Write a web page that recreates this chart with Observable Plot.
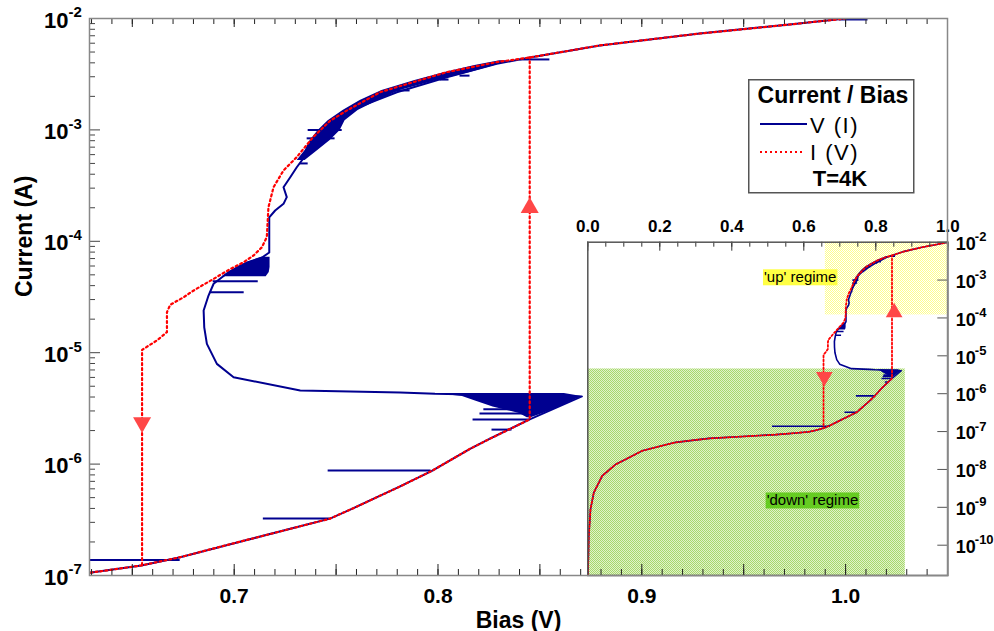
<!DOCTYPE html>
<html><head><meta charset="utf-8">
<script src="https://cdn.jsdelivr.net/npm/d3@7"></script>
<script src="https://cdn.jsdelivr.net/npm/@observablehq/plot@0.6"></script>
<style>
html,body{margin:0;padding:0;background:#fff;}
#wrap{position:relative;width:994px;height:631px;overflow:hidden;font-family:"Liberation Sans",Arial,sans-serif;}
#inset{position:absolute;left:560px;top:200px;z-index:1;}
#main{position:absolute;left:0;top:0;z-index:2;}
#legend{position:absolute;left:748px;top:79px;z-index:3;}
</style></head><body>
<div id="wrap">
<div id="inset"></div>
<div id="main"></div>
<div id="legend">
<svg width="168" height="116" font-family="Liberation Sans, Arial, sans-serif">
<rect x="0.75" y="0.75" width="165" height="113" fill="white" stroke="#555" stroke-width="1.5"/>
<text x="85" y="24" text-anchor="middle" font-size="23" font-weight="bold">Current / Bias</text>
<line x1="12" x2="59" y1="45" y2="45" stroke="#000090" stroke-width="2"/>
<text x="111" y="54" text-anchor="end" font-size="22" letter-spacing="1.5">V (I)</text>
<line x1="12" x2="56" y1="73" y2="73" stroke="#ff0000" stroke-width="2" stroke-dasharray="2 3"/>
<text x="111" y="81" text-anchor="end" font-size="22" letter-spacing="1.5">I (V)</text>
<text x="92" y="107" text-anchor="middle" font-size="22" font-weight="bold">T=4K</text>
</svg>
</div>
</div>
<script>
// ---------------- DATA (Bias in V, Current in A) ----------------
// lower (low-current) branch, shared by I(V) up-sweep and V(I)
const lowerV = [0.000, 0.0028, 0.0075, 0.0167, 0.040, 0.077, 0.151, 0.244, 0.337, 0.430, 0.522, 0.580, 0.615, 0.629, 0.6343, 0.6544, 0.6735, 0.700, 0.7309, 0.747, 0.7569, 0.7814, 0.797, 0.8157, 0.8255, 0.845];
const lowerI = [1.0e-11, 1.74e-10, 8.9e-10, 2.45e-9, 6.8e-9, 1.35e-8, 3.1e-8, 5.2e-8, 6.6e-8, 7.4e-8, 8.3e-8, 9.2e-8, 9.9e-8, 1.06e-7, 1.09e-7, 1.23e-7, 1.46e-7, 1.95e-7, 2.72e-7, 3.24e-7, 3.9e-7, 6.3e-7, 8.7e-7, 1.37e-6, 1.69e-6, 2.52e-6];
// I(V) up-sweep: jump to the 'up' regime
const jumpUpV = [0.845];
const jumpUpI = [4.47e-3];
// I(V) down-sweep
const redDownV = [1.0, 0.9725, 0.9284, 0.8794, 0.8451, 0.8288, 0.8043, 0.7877, 0.7716, 0.7552, 0.7471, 0.7387, 0.7307, 0.7242, 0.7193, 0.7168, 0.716, 0.7136, 0.7095, 0.7046, 0.6989, 0.694, 0.6891, 0.6842, 0.6793, 0.6752, 0.6686, 0.667, 0.667, 0.6621, 0.6548, 0.6548];
const redDownI = [1.0e-2, 8.83e-3, 7.33e-3, 5.73e-3, 4.47e-3, 4.06e-3, 3.30e-3, 2.68e-3, 2.18e-3, 1.49e-3, 1.21e-3, 8.6e-4, 5.7e-4, 4.33e-4, 3.06e-4, 2.02e-4, 1.09e-4, 8.85e-5, 7.46e-5, 6.49e-5, 5.74e-5, 5.1e-5, 4.51e-5, 4.01e-5, 3.54e-5, 3.15e-5, 2.69e-5, 2.31e-5, 1.53e-5, 1.29e-5, 1.06e-5, 1.23e-7];
// V(I) above the lower branch
const blueUpperV = [0.8706, 0.7985, 0.7814, 0.7324, 0.6997, 0.6915, 0.6866, 0.6853, 0.6850, 0.6874, 0.6899, 0.694, 0.6971, 0.7015, 0.7064, 0.7137, 0.7172, 0.7172, 0.7201, 0.7242, 0.7258, 0.7242, 0.7275, 0.7307, 0.7356, 0.7422, 0.7503, 0.7634, 0.7798, 0.8043, 0.8288, 0.8451, 0.8794, 0.9284, 0.9725, 1.0];
const blueUpperI = [4.05e-6, 4.27e-6, 4.40e-6, 4.58e-6, 6.03e-6, 7.94e-6, 1.20e-5, 1.69e-5, 2.39e-5, 3.26e-5, 4.16e-5, 4.76e-5, 5.25e-5, 5.82e-5, 6.46e-5, 7.16e-5, 7.94e-5, 1.64e-4, 1.89e-4, 2.17e-4, 2.49e-4, 3.06e-4, 3.76e-4, 4.62e-4, 6.1e-4, 8.6e-4, 1.30e-3, 1.66e-3, 2.18e-3, 2.97e-3, 3.92e-3, 4.47e-3, 5.73e-3, 7.33e-3, 8.83e-3, 1.0e-2];
// dense V(I) noise regions (left / right bias at each current)
const triI = [4.3e-6, 4.05e-6, 3.7e-6, 3.25e-6, 2.85e-6, 2.6e-6];
const triLeft = [0.7985, 0.812, 0.818, 0.827, 0.840, 0.8438];
const triRight = [0.862, 0.8706, 0.866, 0.8596, 0.8516, 0.8456];
const blockI = [7.2e-5, 6.46e-5, 5.82e-5, 5.25e-5, 4.8e-5];
const blockLeft = [0.7137, 0.7064, 0.7015, 0.6971, 0.6941];
const blockRight = [0.7176, 0.7176, 0.7176, 0.7172, 0.7157];
const bandI = [5.31e-4, 6.53e-4, 8.04e-4, 9.89e-4, 1.21e-3, 1.49e-3, 1.84e-3, 2.26e-3, 2.78e-3, 3.27e-3, 3.78e-3, 4.17e-3];
const bandLeft = [0.7309, 0.7348, 0.7373, 0.7412, 0.7461, 0.7534, 0.7618, 0.7725, 0.7887, 0.8034, 0.8181, 0.8304];
const bandRight = [0.7348, 0.741, 0.7471, 0.752, 0.7544, 0.7608, 0.7706, 0.7814, 0.7995, 0.8157, 0.8279, 0.8353];
// V(I) excursions (horizontal spikes)
const hairI = [1.38e-7, 3.25e-7, 8.77e-7, 2.04e-6, 2.51e-6, 2.84e-6, 3.1e-6, 3.49e-5, 4.39e-5, 5.0e-4, 8.4e-4, 1.0e-3, 2.26e-3, 2.83e-3, 3.07e-3, 4.29e-3, 9.8e-3];
const hairV1 = [0.513, 0.7143, 0.7461, 0.8265, 0.8172, 0.8206, 0.8225, 0.6882, 0.6897, 0.7324, 0.7358, 0.7363, 0.7789, 0.801, 0.8108, 0.8402, 0.997];
const hairV2 = [0.6735, 0.7471, 0.7966, 0.8363, 0.8451, 0.8451, 0.8480, 0.7049, 0.7118, 0.7363, 0.7495, 0.7530, 0.7863, 0.8054, 0.8157, 0.8549, 1.011];
// sweep-direction arrows
const arrowV = [0.6548, 0.845];
const arrowI = [2.36e-6, 2.0e-4];
const arrowRot = [180, 0];
const insetArrowV = [0.657, 0.851];
const insetArrowI = [2.8e-6, 1.4e-4];
// regimes (inset)
const regimeNames = ["'up' regime", "'down' regime"];
const regimeV1 = [0.66, 0.0];
const regimeV2 = [1.0, 0.882];
const regimeI1 = [1.2e-4, 1.585e-11];
const regimeI2 = [1.0e-2, 4.5e-6];
const regimeLabelV = [0.59, 0.624];
const regimeLabelI = [1.17e-3, 1.5e-9];
const regimeLabelBg = ["#ffff44", "#66cc22"];
// tick labels
const xTickLabels = [0.7, 0.8, 0.9, 1.0];
const yExpMain = [-2, -3, -4, -5, -6, -7];
const insetXLabels = [0.0, 0.2, 0.4, 0.6, 0.8, 1.0];
const insetYExp = [-2, -3, -4, -5, -6, -7, -8, -9, -10];

// ---------------- build tables ----------------
const pts = (V, I) => V.map((v, i) => ({V: v, I: I[i]}));
const redUp = pts(lowerV.concat(jumpUpV), lowerI.concat(jumpUpI));
const redDown = pts(redDownV, redDownI);
const blue = pts(lowerV.concat(blueUpperV), lowerI.concat(blueUpperI));
const span = (I, L, R) => I.map((c, i) => ({I: c, l: L[i], r: R[i]}));
const tri = span(triI, triLeft, triRight);
const block = span(blockI, blockLeft, blockRight);
const band = span(bandI, bandLeft, bandRight);
const hairs = hairI.map((c, i) => ({I: c, v1: hairV1[i], v2: hairV2[i]}));
const arrows = arrowV.map((v, i) => ({V: v, I: arrowI[i], rot: arrowRot[i]}));
const insetArrows = insetArrowV.map((v, i) => ({V: v, I: insetArrowI[i], rot: arrowRot[i]}));
const regimes = regimeNames.map((n, i) => ({name: n, v1: regimeV1[i], v2: regimeV2[i], i1: regimeI1[i], i2: regimeI2[i], lv: regimeLabelV[i], li: regimeLabelI[i], bg: regimeLabelBg[i]}));

const FONT = "Liberation Sans, Arial, Helvetica, sans-serif";
const BLUE = "#000090", RED = "#ff0000", ARROW = "#ff4747";

function curveMarks(lw, dash, dw, ar) {
  return [
    Plot.areaX(band, {y: "I", x1: "l", x2: "r", fill: BLUE, clip: true}),
    Plot.areaX(block, {y: "I", x1: "l", x2: "r", fill: BLUE, clip: true}),
    Plot.areaX(tri, {y: "I", x1: "l", x2: "r", fill: BLUE, clip: true}),
    Plot.line(blue, {x: "V", y: "I", stroke: BLUE, strokeWidth: lw, clip: true}),
    Plot.ruleY(hairs, {y: "I", x1: "v1", x2: "v2", stroke: BLUE, strokeWidth: lw, clip: true}),
    Plot.line(redUp, {x: "V", y: "I", stroke: RED, strokeWidth: dw, strokeDasharray: dash, clip: true}),
    Plot.line(redDown, {x: "V", y: "I", stroke: RED, strokeWidth: dw, strokeDasharray: dash, clip: true}),
    Plot.dot(ar.data, {x: "V", y: "I", rotate: "rot", symbol: "triangle", r: ar.r, fill: ARROW, stroke: null})
  ];
}

// ---------------- inset ----------------
const IW = 434, IH = 380, IL = 27.3, IR = 46.7, IT = 41.7, IB = 5;
const iPW = IW - IL - IR, iPH = IH - IT - IB;
const insetXMinor = d3.range(0, 21).map(d => d / 20);
const inset = Plot.plot({
  width: IW, height: IH, marginLeft: IL, marginRight: IR, marginTop: IT, marginBottom: IB,
  x: {type: "linear", domain: [0, 1], axis: null},
  y: {type: "log", domain: [Math.pow(10, -10.8), 1e-2], axis: null},
  style: {background: "white", fontFamily: FONT, overflow: "visible"},
  marks: [
    Plot.rect(regimes.slice(1), {x1: "v1", x2: "v2", y1: "i1", y2: "i2", fill: "url(#patGreen)"}),
    Plot.rect(regimes.slice(0, 1), {x1: "v1", x2: "v2", y1: "i1", y2: "i2", fill: "url(#patYellow)"}),
    ...curveMarks(1.6, "1.8 2.2", 1.8, {data: insetArrows, r: 6.2}),
    Plot.text(regimes, {x: "lv", y: "li", text: "name", fontSize: 15, fill: "black"}),
    Plot.ruleX(insetXMinor, {x: d => d, insetBottom: iPH - 5, stroke: "#333"}),
    Plot.ruleX(insetXLabels, {x: d => d, insetBottom: iPH - 9, stroke: "#333"}),
    Plot.ruleY(insetYExp, {y: e => Math.pow(10, e), insetLeft: iPW - 10, stroke: "#555"}),
    Plot.frame({stroke: "#555", strokeWidth: 1.5}),
    Plot.text(insetXLabels, {x: d => d, text: d => d.toFixed(1), frameAnchor: "top", lineAnchor: "bottom", dy: -10, fontSize: 17, fontWeight: "bold"}),
    Plot.text(insetYExp, {y: e => Math.pow(10, e), text: () => "10", frameAnchor: "right", textAnchor: "start", dx: 8, dy: 2, fontSize: 18, fontWeight: "bold"}),
    Plot.text(insetYExp, {y: e => Math.pow(10, e), text: e => String(e), frameAnchor: "right", textAnchor: "start", dx: 27, dy: -5, fontSize: 13, fontWeight: "bold"})
  ]
});
document.getElementById("inset").appendChild(inset);
{
  const svg = d3.select(inset);
  const defs = svg.insert("defs", ":first-child");
  const pg = defs.append("pattern").attr("id", "patGreen").attr("width", 2).attr("height", 2).attr("patternUnits", "userSpaceOnUse");
  pg.append("rect").attr("width", 2).attr("height", 2).attr("fill", "#e0f2ca");
  pg.append("rect").attr("width", 1).attr("height", 1).attr("fill", "#a6d86c");
  pg.append("rect").attr("x", 1).attr("y", 1).attr("width", 1).attr("height", 1).attr("fill", "#a6d86c");
  const py = defs.append("pattern").attr("id", "patYellow").attr("width", 2).attr("height", 2).attr("patternUnits", "userSpaceOnUse");
  py.append("rect").attr("width", 2).attr("height", 2).attr("fill", "#ffffff");
  py.append("rect").attr("width", 1).attr("height", 1).attr("fill", "#ffff8c");
  py.append("rect").attr("x", 1).attr("y", 1).attr("width", 1).attr("height", 1).attr("fill", "#ffff8c");
  svg.selectAll("text").filter(function () { return regimeNames.includes(this.textContent); }).each(function () {
    const k = regimeNames.indexOf(this.textContent);
    const bb = this.getBBox();
    const r = document.createElementNS("http://www.w3.org/2000/svg", "rect");
    r.setAttribute("x", bb.x - 1);
    r.setAttribute("y", bb.y + 1);
    r.setAttribute("width", bb.width + 2);
    r.setAttribute("height", Math.max(0, bb.height - 1));
    r.setAttribute("fill", regimeLabelBg[k]);
    const t = this.getAttribute("transform");
    if (t) r.setAttribute("transform", t);
    this.parentNode.insertBefore(r, this);
  });
}

// ---------------- main ----------------
const MW = 994, MH = 631, ML = 89, MR = 47, MT = 18, MB = 56;
const mPW = MW - ML - MR, mPH = MH - MT - MB;
const xMinor = d3.range(63, 106).map(d => d / 100);
const xMajor = xMinor.filter(d => Math.round(d * 100) % 5 === 0);
const yMajorMain = yExpMain.map(e => Math.pow(10, e));
const yMinorMain = yExpMain.slice(1).flatMap(e => d3.range(2, 10).map(k => k * Math.pow(10, e)));

const main = Plot.plot({
  width: MW, height: MH, marginLeft: ML, marginRight: MR, marginTop: MT, marginBottom: MB,
  x: {type: "linear", domain: [0.629, 1.05], axis: null},
  y: {type: "log", domain: [1e-7, 1e-2], axis: null},
  style: {background: "transparent", fontFamily: FONT, overflow: "visible"},
  marks: [
    ...curveMarks(2, "2 3", 2.2, {data: arrows, r: 6.7}),
    Plot.ruleX(xMinor, {x: d => d, insetTop: mPH - 6, stroke: "#222"}),
    Plot.ruleX(xMajor, {x: d => d, insetTop: mPH - 11, stroke: "#222"}),
    Plot.ruleX(xMinor, {x: d => d, insetBottom: mPH - 6, stroke: "#222"}),
    Plot.ruleX(xMajor, {x: d => d, insetBottom: mPH - 9, stroke: "#222"}),
    Plot.ruleY(yMinorMain, {y: d => d, insetRight: mPW - 6, stroke: "#444"}),
    Plot.ruleY(yMajorMain, {y: d => d, insetRight: mPW - 11, stroke: "#444"}),
    Plot.frame({stroke: "#888", strokeWidth: 1.5}),
    Plot.text(xTickLabels, {x: d => d, text: d => d.toFixed(1), frameAnchor: "bottom", lineAnchor: "bottom", dy: 27, fontSize: 21, fontWeight: "bold"}),
    Plot.text(yExpMain, {y: e => Math.pow(10, e), text: () => "10", frameAnchor: "left", textAnchor: "end", dx: -21, dy: 2, fontSize: 22, fontWeight: "bold"}),
    Plot.text(yExpMain, {y: e => Math.pow(10, e), text: e => String(e), frameAnchor: "left", textAnchor: "start", dx: -21, dy: -6, fontSize: 15, fontWeight: "bold"}),
    Plot.text(["Current (A)"], {frameAnchor: "left", rotate: -90, dx: -65, fontSize: 23, fontWeight: "bold"}),
    Plot.text(["Bias (V)"], {frameAnchor: "bottom", lineAnchor: "bottom", dy: 52, fontSize: 23, fontWeight: "bold"})
  ]
});
document.getElementById("main").appendChild(main);
</script>
</body></html>
